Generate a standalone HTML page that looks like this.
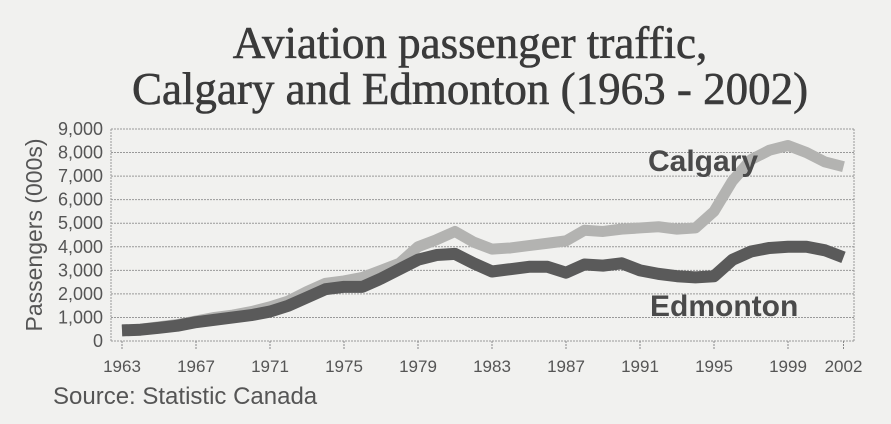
<!DOCTYPE html>
<html><head><meta charset="utf-8"><style>
body{margin:0;background:#f1f1ef;}
svg{display:block;font-family:"Liberation Sans",sans-serif;}
</style></head><body>
<svg width="891" height="424">
<rect width="891" height="424" fill="#f1f1ef"/>
<text x="470" y="58" text-anchor="middle" font-family="Liberation Serif,serif" font-size="45" fill="#3a3a3a" stroke="#3a3a3a" stroke-width="0.6">Aviation passenger traffic,</text>
<text x="470" y="104" text-anchor="middle" font-family="Liberation Serif,serif" font-size="45" fill="#3a3a3a" stroke="#3a3a3a" stroke-width="0.6">Calgary and Edmonton (1963 - 2002)</text>
<g id="grid"></g>
<g id="axes"></g>
<g id="series"></g>
<text transform="translate(42,235) rotate(-90)" text-anchor="middle" font-size="23" fill="#555">Passengers (000s)</text>
<text x="648" y="171" font-size="30" font-weight="bold" fill="#4a4a4a">Calgary</text>
<text x="650" y="316" font-size="30" font-weight="bold" fill="#4a4a4a">Edmonton</text>
<text x="53" y="404" font-size="24" fill="#555">Source: Statistic Canada</text>
</svg>
<script>
const years=[1963,1964,1965,1966,1967,1968,1969,1970,1971,1972,1973,1974,1975,1976,1977,1978,1979,1980,1981,1982,1983,1984,1985,1986,1987,1988,1989,1990,1991,1992,1993,1994,1995,1996,1997,1998,1999,2000,2001,2002];
const calgary=[450,500,600,700,850,1000,1100,1250,1450,1700,2100,2450,2550,2700,3000,3300,4000,4300,4650,4200,3900,3950,4050,4150,4250,4700,4650,4750,4800,4850,4750,4800,5500,6800,7700,8100,8300,8000,7600,7400];
const edmonton=[450,480,560,650,800,900,1000,1100,1250,1500,1850,2200,2300,2300,2650,3050,3450,3650,3700,3300,2950,3050,3150,3150,2900,3250,3200,3300,3000,2850,2750,2700,2750,3450,3800,3950,4000,4000,3850,3550];
const yTicks=[0,1000,2000,3000,4000,5000,6000,7000,8000,9000];
const xTicks=[1963,1967,1971,1975,1979,1983,1987,1991,1995,1999,2002];
const NS="http://www.w3.org/2000/svg";
const x=v=>122+(v-1963)*18.5;
const y=v=>341-v*(212/9000);
function mk(t,a,p){const e=document.createElementNS(NS,t);for(const k in a)e.setAttribute(k,a[k]);p.appendChild(e);return e;}
const grid=document.getElementById('grid'),axes=document.getElementById('axes'),ser=document.getElementById('series');
for(const t of yTicks){
 const l=mk('line',{x1:111,x2:854,y1:y(t),y2:y(t),stroke:'#999','stroke-dasharray':'2,1','stroke-width':1},grid);
 
 
 const tx=mk('text',{x:103,y:y(t)+6,'text-anchor':'end','font-size':18,fill:'#555'},axes);
 tx.textContent=t.toLocaleString('en-US');
 
 
}
const vl=mk('line',{x1:111,x2:111,y1:y(9000),y2:y(0),stroke:'#999','stroke-dasharray':'2,1'},grid);


const vr=mk('line',{x1:854,x2:854,y1:y(9000),y2:y(0),stroke:'#999','stroke-dasharray':'2,1'},grid);


for(const t of xTicks){
 const tk=mk('line',{x1:x(t),x2:x(t),y1:341,y2:349,stroke:'#888','stroke-dasharray':'2,1'},axes);
 
 
 const tx=mk('text',{x:x(t),y:372,'text-anchor':'middle','font-size':17,fill:'#555'},axes);
 tx.textContent=t;
 
 
}
function pts(arr){return arr.map((v,i)=>x(years[i])+','+y(v)).join(' ');}
const c=mk('polyline',{points:pts(calgary),fill:'none',stroke:'#b3b3b1','stroke-width':11,'stroke-linejoin':'round'},ser);


const e=mk('polyline',{points:pts(edmonton),fill:'none',stroke:'#5a5a5a','stroke-width':12,'stroke-linejoin':'round'},ser);


</script>
</body></html>
